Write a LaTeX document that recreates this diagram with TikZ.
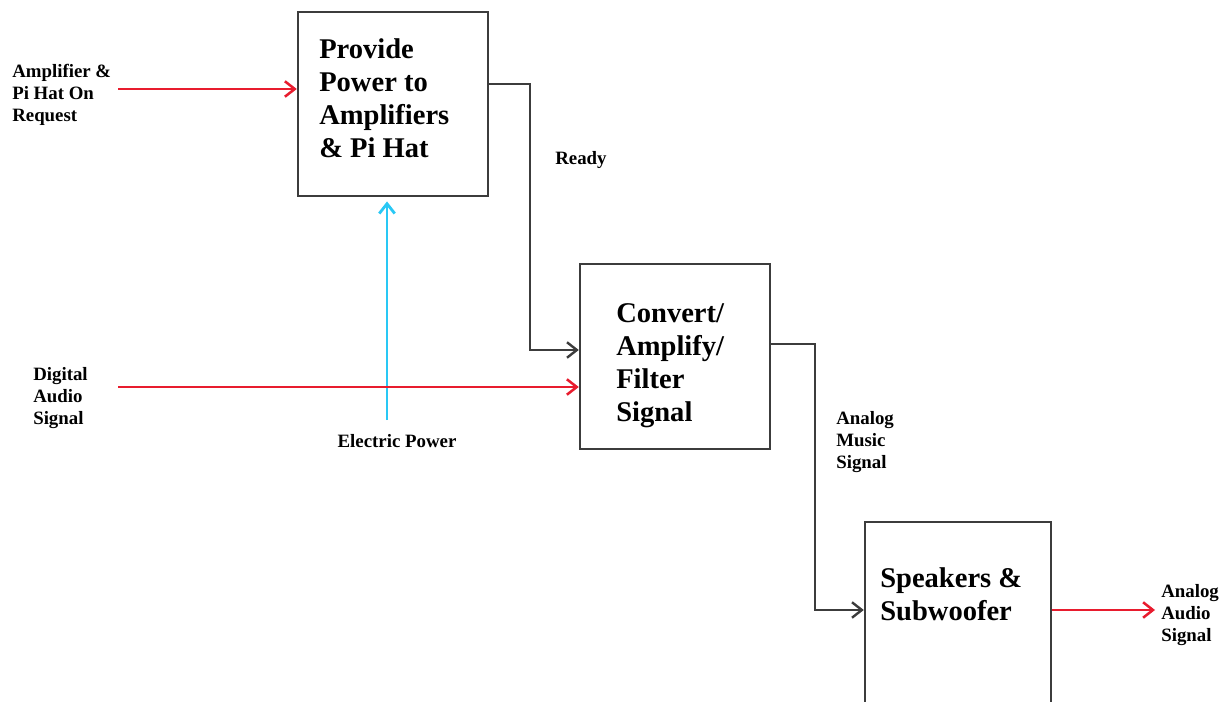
\documentclass[tikz,border=0pt]{standalone}
\usepackage{fontspec}
\setmainfont{Liberation Serif}
\definecolor{SigRed}{RGB}{232, 28, 46}
\definecolor{PowBlue}{RGB}{41, 200, 245}
\definecolor{LineGray}{RGB}{60, 60, 60}
\usetikzlibrary{arrows.meta, positioning}

\begin{document}
\begin{tikzpicture}[
    x=0.025cm, y=-0.025cm,
    block/.style={draw=LineGray, line width=1.7pt, fill=white},
    blocktext/.style={font=\fontsize{20.3}{23.5}\selectfont\bfseries, align=left, inner sep=0pt, anchor=west},
    lbl/.style={font=\fontsize{13.4}{15.6}\selectfont\bfseries, align=left, inner sep=0pt, anchor=west},
    sig/.style={draw=LineGray, line width=1.7pt, -{Straight Barb[length=7pt, width=11pt]}},
    redsig/.style={draw=SigRed, line width=1.8pt, -{Straight Barb[length=7pt, width=11pt]}},
    pwr/.style={draw=PowBlue, line width=2pt, -{Straight Barb[length=7pt, width=11pt]}}
]
\useasboundingbox (0,0) rectangle (1231,702);
% blocks
\node[block, minimum width=4.75cm, minimum height=4.6cm] (pow) at (393,104) {};
\node[block, minimum width=4.75cm, minimum height=4.625cm] (conv) at (675,356.5) {};
\node[block, minimum width=4.65cm, minimum height=4.75cm] (spk) at (958,617) {};
\node[blocktext] (powtxt) at (319,98.5) {Provide\\Power to\\Amplifiers\\\& Pi Hat};
\node[blocktext] (convtxt) at (616,366) {Convert/\\Amplify/\\Filter\\Signal};
\node[blocktext] (spktxt) at (880,594) {Speakers \&\\Subwoofer};
% labels
\node[lbl] (reqlbl) at (12,95) {Amplifier \&\\Pi Hat On\\Request};
\node[lbl] (diglbl) at (33,398) {Digital\\Audio\\Signal};
\node[lbl] (rdylbl) at (555,160) {Ready};
\node[lbl, anchor=center] (pwrlbl) at (397,441) {Electric Power};
\node[lbl] (muslbl) at (836,442) {Analog\\Music\\Signal};
\node[lbl] (audlbl) at (1161,615) {Analog\\Audio\\Signal};
% connector ends
\coordinate (reqin) at (118,89);
\coordinate (digin) at (118,387);
\coordinate (pwrin) at (387,420);
\coordinate (audout) at (1155,610);
% connectors
\draw[pwr, shorten >=3pt] (pwrin) -- (pow.south -| pwrin);
\draw[redsig] (reqin) -- (pow.west |- reqin);
\draw[redsig] (digin) -- (conv.west |- digin);
\draw[sig] (pow.east |- 0,84) -| (530,350) -- (conv.west |- 0,350);
\draw[sig] (conv.east |- 0,344) -| (815,610) -- (spk.west |- 0,610);
\draw[redsig] (spk.east |- audout) -- (audout);
\end{tikzpicture}
\end{document}
